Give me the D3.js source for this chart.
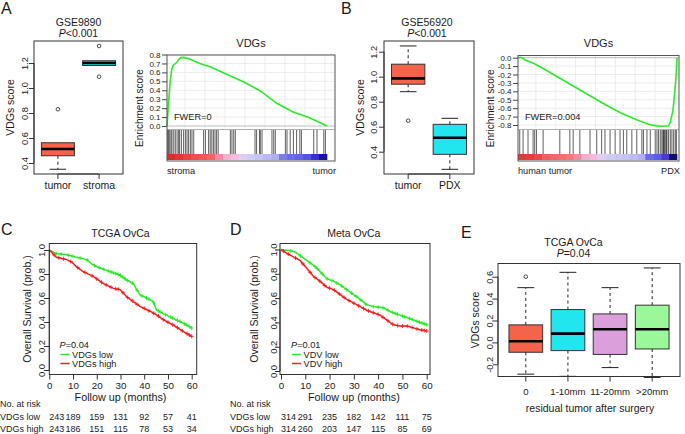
<!DOCTYPE html>
<html><head><meta charset="utf-8">
<script src="https://cdn.jsdelivr.net/npm/d3@7/dist/d3.min.js"></script>
<style>
body{margin:0;background:#fff;}
svg text{font-family:"Liberation Sans", Arial, Helvetica, sans-serif; fill:#1a1a1a;}
</style></head><body>
<svg id="fig" width="685" height="434"></svg>
<script>
// ---------------- DATA ----------------
// Panel A boxplot (GSE9890)
const boxA_cats = ["tumor", "stroma"];
const boxA_low  = [0.35, 1.18];
const boxA_q1   = [0.458, 1.18];
const boxA_med  = [0.512, 1.20];
const boxA_q3   = [0.562, 1.218];
const boxA_high = [0.562, 1.218];
const boxA_out  = [[0.83], [1.336, 1.09]];
const boxA_ticks = [0.4, 0.6, 0.8, 1.0, 1.2];

// Panel B boxplot (GSE56920)
const boxB_cats = ["tumor", "PDX"];
const boxB_low  = [0.88, 0.259];
const boxB_q1   = [0.94, 0.379];
const boxB_med  = [0.987, 0.512];
const boxB_q3   = [1.10, 0.619];
const boxB_high = [1.246, 0.667];
const boxB_out  = [[0.648], []];
const boxB_ticks = [0.4, 0.6, 0.8, 1.0, 1.2];

// Panel E boxplot (TCGA residual tumor)
const boxE_cats = ["0", "1-10mm", "11-20mm", ">20mm"];
const boxE_low  = [-0.29, -0.31, -0.23, -0.32];
const boxE_q1   = [-0.09, -0.075, -0.11, -0.06];
const boxE_med  = [0.01, 0.08, 0.12, 0.12];
const boxE_q3   = [0.16, 0.30, 0.26, 0.34];
const boxE_high = [0.50, 0.64, 0.50, 0.68];
const boxE_out  = [[0.60], [], [], []];
const boxE_ticks = [-0.2, 0.0, 0.2, 0.4, 0.6];

// GSEA A (stroma vs tumor): rank position (% of list) and running ES
const gseaA_rank = [0, 0.8, 1.9, 2.9, 3.9, 6.1, 7.1, 8.6, 10.2, 14.4, 20.6, 23.8, 26.9, 37.3, 47.7, 58.1, 68.6, 78.8, 89.4, 100];
const gseaA_es   = [0, 0.22, 0.48, 0.63, 0.68, 0.71, 0.74, 0.765, 0.768, 0.746, 0.70, 0.68, 0.663, 0.58, 0.495, 0.395, 0.254, 0.157, 0.09, 0.0];
const gseaA_hits = [0.4, 1, 1.7, 2.5, 3.1, 4.2, 5.2, 6.3, 7.3, 7.9, 9, 10.4, 11.5, 12.5, 13.5, 14.6, 15.6, 16.7,
                    22.9, 24, 26, 27, 28, 29, 30, 31, 32, 39.6, 40.6, 41.7, 42.7, 55, 56, 57.9, 58.3, 59.4,
                    65.6, 66.7, 67.7, 74, 75, 77, 79, 81, 83, 84, 91.7, 93.75, 98, 99];
const gseaA_bar  = ["#dd2a2a","#e23535","#e84444","#ea4e4e","#ec5858","#ee6464","#f28aa8","#f6b0d0","#f4bce0","#dcd0f4",
                    "#ccccf6","#c4c4f4","#b8b8f2","#b0b0f0","#7c7ce8","#6c6ce6","#6262e4","#5454e0","#3a30d0","#1a10b0"];
const gseaA_ticks = [0, 0.1, 0.2, 0.3, 0.4, 0.5, 0.6, 0.7, 0.8];

// GSEA B (human tumor vs PDX)
const gseaB_rank = [0, 2, 5, 10, 15, 25, 35, 45, 55, 65, 75, 82, 87, 91, 94.5, 95.8, 97.5, 98.5, 99.6, 100];
const gseaB_es   = [0, 0.005, -0.03, -0.07, -0.12, -0.23, -0.34, -0.45, -0.56, -0.66, -0.74, -0.79, -0.81, -0.815, -0.81, -0.77, -0.62, -0.42, -0.19, 0];
const gseaB_hits = [1.1, 3.2, 6.3, 9.5, 10.5, 11.6, 15.8, 26.3, 32.6, 34.7, 38.9, 45.3, 49.5, 52.6, 54.7, 57.9, 61.1,
                    64.2, 66.3, 68.4, 71.6, 74.7, 77.9, 78.9, 81.1, 83.2, 86.3, 87.4, 88.4, 89.5, 90.5, 91.2, 91.6,
                    92, 92.6, 93.3, 93.7, 94.7, 95.8, 96.8, 97.9, 98.9, 99.6];
const gseaB_bar  = ["#e23838","#e63e3e","#e84848","#ec6060","#ee6a6a","#ee7070","#f07a7a","#f08c9c","#f4b0d0","#f4b8d8",
                    "#dcd0f2","#ccccf4","#c8c8f4","#c4c4f2","#bcbcf0","#b0b0ee","#6a6ae6","#5c5ce0","#4a3ad0","#10106a"];
const gseaB_ticks = [0, -0.1, -0.2, -0.3, -0.4, -0.5, -0.6, -0.7, -0.8];

// KM C (TCGA OvCa)
const kmC_low_t  = [0, 3, 7.3, 11.5, 15.7, 18.5, 21.3, 25.6, 29.8, 32.6, 35.4, 36.8, 38.2, 41, 43.8, 45.2, 48, 52.2, 56.5, 60];
const kmC_low_s  = [1.0, 0.97, 0.96, 0.94, 0.92, 0.875, 0.85, 0.82, 0.79, 0.75, 0.72, 0.67, 0.625, 0.60, 0.57, 0.50, 0.47, 0.43, 0.39, 0.35];
const kmC_high_t = [0, 3, 7.3, 9.4, 11.5, 14.3, 18.5, 22.8, 27, 29.8, 32.6, 35.4, 38.2, 42.4, 45.2, 48, 52.2, 56.5, 60];
const kmC_high_s = [1.0, 0.94, 0.92, 0.90, 0.86, 0.82, 0.78, 0.72, 0.68, 0.67, 0.61, 0.57, 0.53, 0.49, 0.46, 0.42, 0.375, 0.32, 0.28];
const kmC_low_cens  = [3, 5, 8, 10, 13, 16, 19, 21, 23, 25, 26, 27, 28, 29, 30, 31, 32, 33, 35, 37, 39, 41, 42, 44, 46, 47, 49, 51, 52, 54, 55, 57, 58, 59, 60];
const kmC_high_cens = [2, 4, 6, 9, 12, 15, 18, 20, 22, 24, 26, 28, 29, 31, 33, 35, 37, 40, 42, 44, 46, 48, 50, 52, 54, 56, 58, 59, 60];
const kmC_risk_low  = [243, 189, 159, 131, 92, 57, 41];
const kmC_risk_high = [243, 186, 151, 115, 78, 53, 34];

// KM D (Meta OvCa)
const kmD_low_t  = [0, 3.7, 5.8, 8.5, 11.3, 14, 16, 18.8, 21.6, 24.3, 27, 29.8, 32.6, 35.3, 38, 42.2, 44.9, 49, 51.8, 55.9, 60];
const kmD_low_s  = [1.0, 0.99, 0.98, 0.94, 0.90, 0.86, 0.82, 0.76, 0.74, 0.71, 0.67, 0.63, 0.59, 0.545, 0.53, 0.52, 0.49, 0.46, 0.44, 0.41, 0.38];
const kmD_high_t = [0, 2.3, 5.1, 7.8, 10.6, 13.3, 16, 18.8, 21.6, 24.3, 27, 29.8, 32.6, 35.3, 38, 40.8, 43.5, 46.3, 49, 51.8, 54.5, 57.1, 60];
const kmD_high_s = [1.0, 0.97, 0.94, 0.91, 0.845, 0.78, 0.74, 0.69, 0.67, 0.63, 0.59, 0.56, 0.53, 0.50, 0.48, 0.46, 0.42, 0.38, 0.37, 0.37, 0.355, 0.34, 0.33];
const kmD_low_cens  = [4, 8, 12, 14, 15, 17, 19, 21, 23, 25, 27, 29, 31, 33, 35, 38, 40, 42, 44, 46, 47, 48, 50, 51, 53, 54, 56, 57, 58, 59, 60];
const kmD_high_cens = [1, 3, 6, 9, 12, 14, 16, 18, 20, 22, 24, 26, 28, 30, 32, 34, 36, 38, 40, 42, 44, 46, 48, 50, 52, 54, 56, 58, 59, 60];
const kmD_risk_low  = [314, 291, 235, 182, 142, 111, 75];
const kmD_risk_high = [314, 260, 203, 147, 115, 85, 69];

const km_ticks = [0, 10, 20, 30, 40, 50, 60];
const km_yticks = [0, 0.2, 0.4, 0.6, 0.8, 1.0];

// ---------------- DRAWING ----------------
const svg = d3.select("#fig");
const GREEN = "#2ee82e", RED = "#ee2020";
const TOMATO = "#f4634a", CYAN = "#22e6ee", PLUM = "#dba0dc", PALEGREEN = "#9af79a";
const fmt1 = v => (Math.abs(v) < 1e-9 ? 0 : v).toFixed(1);

function text(g, x, y, s, size, anchor) {
  return g.append("text").attr("x", x).attr("y", y).attr("font-size", size)
    .attr("text-anchor", anchor || "start").text(s);
}
function pText(g, x, y, rest, size, anchor) {
  const t = g.append("text").attr("x", x).attr("y", y).attr("font-size", size).attr("text-anchor", anchor || "middle");
  t.append("tspan").attr("font-style", "italic").text("P");
  t.append("tspan").text(rest);
  return t;
}
function vText(g, x, y, s, size) {
  return g.append("text").attr("transform", `translate(${x},${y}) rotate(-90)`)
    .attr("font-size", size).attr("text-anchor", "middle").text(s);
}
// R-style left axis: ticks outward, rotated labels
function rLeftAxis(g, y, L, ticks, labelBase, size) {
  const ax = d3.axisLeft(y).tickValues(ticks).tickSize(5).tickSizeOuter(0).tickFormat(fmt1);
  const a = g.append("g").attr("transform", `translate(${L},0)`).call(ax);
  a.select(".domain").attr("stroke", "#333").attr("d", `M0,${y(ticks[0])}V${y(ticks[ticks.length-1])}`);
  a.selectAll(".tick line").attr("stroke", "#333");
  a.selectAll(".tick text").attr("transform", "rotate(-90)").attr("x", 0).attr("y", -(L - labelBase))
    .attr("dy", 0).attr("text-anchor", "middle").attr("font-size", size)
    .attr("font-family", '"Liberation Sans", Arial, sans-serif').attr("fill", "#1a1a1a");
  return a;
}

function boxPanel(c) {
  const g = svg.append("g");
  const n = c.cats.length;
  const x = d3.scaleLinear().domain([0.5 - 0.04 * n, n + 0.5 + 0.04 * n]).range([c.L, c.R]);
  const y = d3.scaleLinear().domain([c.yTicks[0], c.yTicks[c.yTicks.length - 1]]).range(c.yRange);
  c.cats.forEach((cat, i) => {
    const cx = x(i + 1), hw = x(1.4) - x(1), cw = x(1.2) - x(1);
    const col = c.colors[i];
    if (c.low[i] < c.q1[i]) {
      g.append("line").attr("x1", cx).attr("x2", cx).attr("y1", y(c.q1[i])).attr("y2", y(c.low[i]))
        .attr("stroke", "#222").attr("stroke-dasharray", "3,3");
      g.append("line").attr("x1", cx - cw).attr("x2", cx + cw).attr("y1", y(c.low[i])).attr("y2", y(c.low[i])).attr("stroke", "#222");
    }
    if (c.high[i] > c.q3[i]) {
      g.append("line").attr("x1", cx).attr("x2", cx).attr("y1", y(c.q3[i])).attr("y2", y(c.high[i]))
        .attr("stroke", "#222").attr("stroke-dasharray", "3,3");
      g.append("line").attr("x1", cx - cw).attr("x2", cx + cw).attr("y1", y(c.high[i])).attr("y2", y(c.high[i])).attr("stroke", "#222");
    }
    g.append("rect").attr("x", cx - hw).attr("width", 2 * hw).attr("y", y(c.q3[i]))
      .attr("height", Math.max(1, y(c.q1[i]) - y(c.q3[i]))).attr("fill", col).attr("stroke", "#333");
    g.append("line").attr("x1", cx - hw).attr("x2", cx + hw).attr("y1", y(c.med[i])).attr("y2", y(c.med[i]))
      .attr("stroke", "#000").attr("stroke-width", 2.6);
    c.out[i].forEach(o => g.append("circle").attr("cx", cx).attr("cy", y(o)).attr("r", 1.8)
      .attr("fill", "none").attr("stroke", "#333").attr("stroke-width", 0.9));
    g.append("line").attr("x1", cx).attr("x2", cx).attr("y1", c.B).attr("y2", c.B + 5).attr("stroke", "#333");
    text(g, cx, c.xLabBase, cat, c.xLabSize, "middle");
  });
  g.append("line").attr("x1", x(1)).attr("x2", x(n)).attr("y1", c.B).attr("y2", c.B).attr("stroke", "#333");
  rLeftAxis(g, y, c.L, c.yTicks, c.yLabBase, c.tickSize);
  g.append("rect").attr("x", c.L).attr("y", c.T).attr("width", c.R - c.L).attr("height", c.B - c.T)
    .attr("fill", "none").attr("stroke", "#333");
  vText(g, c.yTitleX, (c.T + c.B) / 2, "VDGs score", 10.5);
  return { g, x, y };
}

function gseaPanel(c) {
  const g = svg.append("g");
  const x = d3.scaleLinear().domain([0, 100]).range([c.L, c.dataR]);
  const y = d3.scaleLinear().domain(c.yDom).range(c.yRange);
  // grid
  c.ticks.forEach(t => g.append("line").attr("x1", c.L).attr("x2", c.R).attr("y1", y(t)).attr("y2", y(t))
    .attr("stroke", "#ececec"));
  [11.25, 23.75, 36.25, 48.75, 61.25, 73.75, 86.25, 98.75].forEach(r =>
    g.append("line").attr("x1", x(r)).attr("x2", x(r)).attr("y1", c.T).attr("y2", c.esB).attr("stroke", "#ececec"));
  g.append("line").attr("x1", c.L).attr("x2", c.R).attr("y1", y(0)).attr("y2", y(0)).attr("stroke", "#c8c8c8").attr("stroke-width", 1.2);
  g.append("line").attr("x1", c.L).attr("x2", c.R).attr("y1", c.esB).attr("y2", c.esB).attr("stroke", "#b0b0b0");
  // hits
  c.hits.forEach(h => g.append("line").attr("x1", x(h)).attr("x2", x(h)).attr("y1", c.hitT).attr("y2", c.barT)
    .attr("stroke", "#000").attr("stroke-width", 0.9).attr("stroke-opacity", 0.7));
  // colour bar
  const bw = 100 / c.bar.length;
  c.bar.forEach((col, i) => g.append("rect").attr("x", x(i * bw)).attr("width", x((i + 1) * bw) - x(i * bw) + 0.3)
    .attr("y", c.barT).attr("height", c.barB - c.barT).attr("fill", col));
  // ES curve
  const line = d3.line().x((d, i) => x(c.rank[i])).y(d => y(d));
  g.append("path").attr("d", line(c.es)).attr("fill", "none").attr("stroke", GREEN).attr("stroke-width", 1.6);
  // frame
  g.append("rect").attr("x", c.L).attr("y", c.T).attr("width", c.R - c.L).attr("height", c.B - c.T)
    .attr("fill", "none").attr("stroke", "#555");
  // y axis
  const ax = d3.axisLeft(y).tickValues(c.ticks).tickSize(5).tickSizeOuter(0).tickFormat(fmt1);
  const a = g.append("g").attr("transform", `translate(${c.L},0)`).call(ax);
  a.select(".domain").remove();
  a.selectAll(".tick line").attr("stroke", "#444");
  a.selectAll(".tick text").attr("x", -6.5).attr("font-size", 8).attr("fill", "#1a1a1a")
    .attr("font-family", '"Liberation Sans", Arial, sans-serif');
  vText(g, c.yTitleX, (c.T + c.B) / 2, "Enrichment score", 10);
  text(g, (c.L + c.R) / 2, 46.5, "VDGs", 11, "middle");
  text(g, c.L, 174, c.leftLab, 9.2, "start");
  text(g, c.R + 1, 174, c.rightLab, 9.2, "end");
  text(g, c.fwerX, c.fwerY, c.fwer, 9.2, "start");
}

function kmPanel(c) {
  const g = svg.append("g");
  const x = d3.scaleLinear().domain([0, 60]).range([c.x0, c.x60]);
  const y = d3.scaleLinear().domain([0, 1]).range([c.y0, c.y1]);
  const line = (T) => d3.line().x((d, i) => x(T[i])).y(d => y(d));
  const onCurve = (T, S, t) => {
    for (let i = 1; i < T.length; i++) if (t <= T[i]) {
      const f = (t - T[i - 1]) / (T[i] - T[i - 1]); return S[i - 1] + f * (S[i] - S[i - 1]);
    }
    return S[S.length - 1];
  };
  [[c.lowT, c.lowS, c.lowC, GREEN], [c.highT, c.highS, c.highC, RED]].forEach(([T, S, C, col]) => {
    g.append("path").attr("d", line(T)(S)).attr("fill", "none").attr("stroke", col).attr("stroke-width", 1.5);
    const p = d3.path();
    C.forEach(t => { const px = x(t), py = y(onCurve(T, S, t));
      p.moveTo(px - 2, py); p.lineTo(px + 2, py); p.moveTo(px, py - 2); p.lineTo(px, py + 2); });
    g.append("path").attr("d", p.toString()).attr("stroke", col).attr("stroke-width", 0.9).attr("fill", "none");
  });
  // axes
  const ax = d3.axisBottom(x).tickValues(km_ticks).tickSize(5).tickSizeOuter(0).tickFormat(d3.format("d"));
  const a = g.append("g").attr("transform", `translate(0,${c.B})`).call(ax);
  a.select(".domain").attr("stroke", "#333").attr("d", `M${x(0)},0H${x(60)}`);
  a.selectAll(".tick line").attr("stroke", "#333");
  a.selectAll(".tick text").attr("y", 14).attr("dy", 0).attr("font-size", 9.8).attr("fill", "#1a1a1a")
    .attr("font-family", '"Liberation Sans", Arial, sans-serif');
  rLeftAxis(g, y, c.L, km_yticks, c.yLabBase, 9.5);
  g.append("rect").attr("x", c.L).attr("y", c.T).attr("width", c.R - c.L).attr("height", c.B - c.T)
    .attr("fill", "none").attr("stroke", "#333");
  text(g, (c.x0 + c.x60) / 2, 237, c.title, 10.5, "middle");
  text(g, (c.x0 + c.x60) / 2, 401, "Follow up (months)", 10.8, "middle");
  vText(g, c.yTitleX, (c.T + c.B) / 2, "Overall Survival (prob.)", 10.5);
  // legend
  pText(g, c.legX, 348, c.pval, 9.2, "start");
  g.append("line").attr("x1", c.legX + 1).attr("x2", c.legX + 10).attr("y1", 354.5).attr("y2", 354.5).attr("stroke", GREEN).attr("stroke-width", 1.5);
  g.append("line").attr("x1", c.legX + 1).attr("x2", c.legX + 10).attr("y1", 363.5).attr("y2", 363.5).attr("stroke", RED).attr("stroke-width", 1.5);
  text(g, c.legX + 12.5, 357.6, c.lowLab, 9.2, "start");
  text(g, c.legX + 12.5, 366.8, c.highLab, 9.2, "start");
  // risk table
  text(g, c.tabX, 407, "No. at risk", 9, "start");
  text(g, c.tabX, 420, "VDGs low", 9, "start");
  text(g, c.tabX, 432, "VDGs high", 9, "start");
  km_ticks.forEach((t, i) => {
    text(g, x(t), 420, c.riskLow[i], 9, i === 0 ? "start" : "middle");
    text(g, x(t), 432, c.riskHigh[i], 9, i === 0 ? "start" : "middle");
  });
}

// Panel letters
[["A", 1, 13.5], ["B", 341, 13.5], ["C", 1, 235], ["D", 230, 235], ["E", 461, 238]].forEach(([s, x, y]) =>
  text(svg, x, y, s, 16, "start"));

// A boxplot
boxPanel({ cats: boxA_cats, low: boxA_low, q1: boxA_q1, med: boxA_med, q3: boxA_q3, high: boxA_high, out: boxA_out,
  colors: [TOMATO, CYAN], yTicks: boxA_ticks, yRange: [163, 63], L: 34, R: 123, T: 41, B: 174,
  xLabBase: 189, xLabSize: 10.5, yLabBase: 27.5, tickSize: 9.3, yTitleX: 14 });
text(svg, 78.5, 26, "GSE9890", 10.5, "middle");
pText(svg, 78.5, 37.3, "<0.001", 10.5, "middle");

// B boxplot
boxPanel({ cats: boxB_cats, low: boxB_low, q1: boxB_q1, med: boxB_med, q3: boxB_q3, high: boxB_high, out: boxB_out,
  colors: [TOMATO, CYAN], yTicks: boxB_ticks, yRange: [151.7, 51.7], L: 384, R: 474, T: 41, B: 174,
  xLabBase: 189, xLabSize: 10.5, yLabBase: 377, tickSize: 9.3, yTitleX: 364 });
text(svg, 427, 26, "GSE56920", 10.5, "middle");
pText(svg, 427, 37.3, "<0.001", 10.5, "middle");

// E boxplot
boxPanel({ cats: boxE_cats, low: boxE_low, q1: boxE_q1, med: boxE_med, q3: boxE_q3, high: boxE_high, out: boxE_out,
  colors: [TOMATO, CYAN, PLUM, PALEGREEN], yTicks: boxE_ticks, yRange: [364.3, 276.7], L: 498, R: 680, T: 263.5, B: 376.5,
  xLabBase: 395, xLabSize: 9.6, yLabBase: 493, tickSize: 9.3, yTitleX: 479 });
text(svg, 573.5, 245.5, "TCGA OvCa", 10.5, "middle");
pText(svg, 573.5, 257, "=0.04", 10.5, "middle");
text(svg, 590, 412, "residual tumor after surgery", 10.5, "middle");

// GSEA A
gseaPanel({ L: 167, R: 335, dataR: 327, T: 55, B: 161, esB: 129.5, hitT: 130, barT: 154, barB: 160,
  yDom: [0, 0.8], yRange: [126, 54.5], ticks: gseaA_ticks, rank: gseaA_rank, es: gseaA_es, hits: gseaA_hits,
  bar: gseaA_bar, yTitleX: 143, leftLab: "stroma", rightLab: "tumor", fwer: "FWER=0", fwerX: 174, fwerY: 120 });
// GSEA B
gseaPanel({ L: 518, R: 679, dataR: 677, T: 55.5, B: 161, esB: 129.5, hitT: 130, barT: 154, barB: 160,
  yDom: [-0.8, 0], yRange: [125, 57.7], ticks: gseaB_ticks, rank: gseaB_rank, es: gseaB_es, hits: gseaB_hits,
  bar: gseaB_bar, yTitleX: 493.5, leftLab: "human tumor", rightLab: "PDX", fwer: "FWER=0.004", fwerX: 525, fwerY: 120 });

// KM C
kmPanel({ x0: 49.3, x60: 191.7, y0: 370, y1: 250, L: 49.3, R: 196.7, T: 243.5, B: 374.5,
  lowT: kmC_low_t, lowS: kmC_low_s, highT: kmC_high_t, highS: kmC_high_s, lowC: kmC_low_cens, highC: kmC_high_cens,
  title: "TCGA OvCa", pval: "=0.04", lowLab: "VDGs low", highLab: "VDGs high", legX: 59.5,
  riskLow: kmC_risk_low, riskHigh: kmC_risk_high, tabX: 0, yLabBase: 45, yTitleX: 31 });
// KM D
kmPanel({ x0: 281, x60: 426.7, y0: 371, y1: 249.5, L: 280, R: 430, T: 243.5, B: 374.5,
  lowT: kmD_low_t, lowS: kmD_low_s, highT: kmD_high_t, highS: kmD_high_s, lowC: kmD_low_cens, highC: kmD_high_cens,
  title: "Meta OvCa", pval: "=0.01", lowLab: "VDV low", highLab: "VDV high", legX: 291,
  riskLow: kmD_risk_low, riskHigh: kmD_risk_high, tabX: 230, yLabBase: 276.5, yTitleX: 258 });
</script>
</body></html>
